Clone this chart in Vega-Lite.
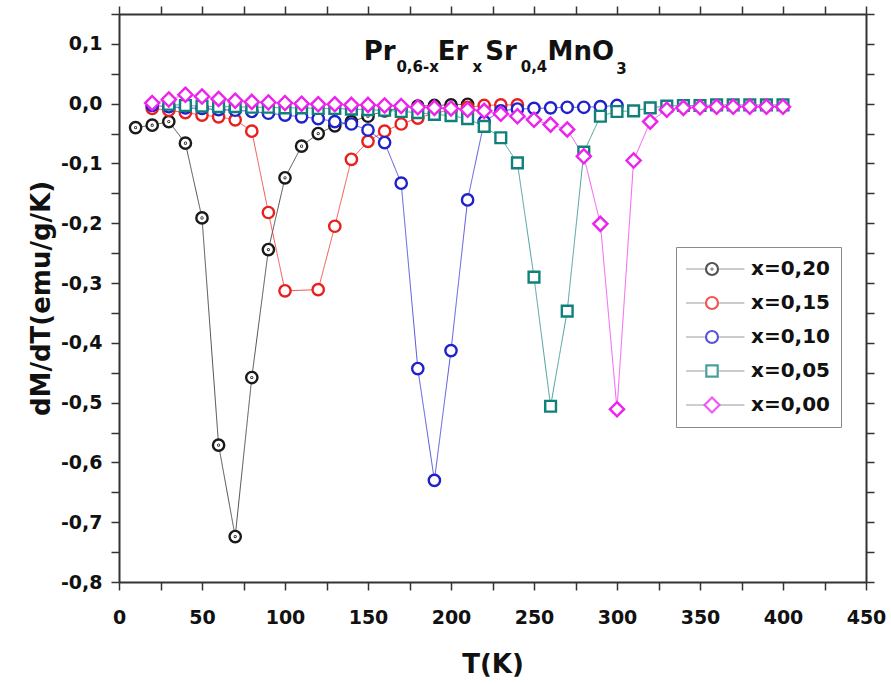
{
  "$schema": "https://vega.github.io/schema/vega-lite/v6.json",
  "width": 747,
  "height": 568,
  "autosize": "none",
  "padding": {"left": 119, "top": 14, "right": 25, "bottom": 102},
  "background": "white",
  "config": {"view": {"stroke": null}},
  "datasets": {
    "curves": [
      {"series": "x=0,20", "T": 10, "dMdT": -0.040},
      {"series": "x=0,20", "T": 20, "dMdT": -0.036},
      {"series": "x=0,20", "T": 30, "dMdT": -0.030},
      {"series": "x=0,20", "T": 40, "dMdT": -0.066},
      {"series": "x=0,20", "T": 50, "dMdT": -0.191},
      {"series": "x=0,20", "T": 60, "dMdT": -0.571},
      {"series": "x=0,20", "T": 70, "dMdT": -0.724},
      {"series": "x=0,20", "T": 80, "dMdT": -0.458},
      {"series": "x=0,20", "T": 90, "dMdT": -0.244},
      {"series": "x=0,20", "T": 100, "dMdT": -0.124},
      {"series": "x=0,20", "T": 110, "dMdT": -0.071},
      {"series": "x=0,20", "T": 120, "dMdT": -0.050},
      {"series": "x=0,20", "T": 130, "dMdT": -0.037},
      {"series": "x=0,20", "T": 140, "dMdT": -0.030},
      {"series": "x=0,20", "T": 150, "dMdT": -0.021},
      {"series": "x=0,20", "T": 160, "dMdT": -0.012},
      {"series": "x=0,20", "T": 170, "dMdT": -0.007},
      {"series": "x=0,20", "T": 180, "dMdT": -0.004},
      {"series": "x=0,20", "T": 190, "dMdT": -0.003},
      {"series": "x=0,20", "T": 200, "dMdT": -0.002},
      {"series": "x=0,20", "T": 210, "dMdT": -0.001},
      {"series": "x=0,15", "T": 20, "dMdT": -0.008},
      {"series": "x=0,15", "T": 30, "dMdT": -0.011},
      {"series": "x=0,15", "T": 40, "dMdT": -0.015},
      {"series": "x=0,15", "T": 50, "dMdT": -0.019},
      {"series": "x=0,15", "T": 60, "dMdT": -0.022},
      {"series": "x=0,15", "T": 70, "dMdT": -0.027},
      {"series": "x=0,15", "T": 80, "dMdT": -0.046},
      {"series": "x=0,15", "T": 90, "dMdT": -0.182},
      {"series": "x=0,15", "T": 100, "dMdT": -0.313},
      {"series": "x=0,15", "T": 120, "dMdT": -0.311},
      {"series": "x=0,15", "T": 130, "dMdT": -0.205},
      {"series": "x=0,15", "T": 140, "dMdT": -0.093},
      {"series": "x=0,15", "T": 150, "dMdT": -0.063},
      {"series": "x=0,15", "T": 160, "dMdT": -0.046},
      {"series": "x=0,15", "T": 170, "dMdT": -0.034},
      {"series": "x=0,15", "T": 180, "dMdT": -0.024},
      {"series": "x=0,15", "T": 190, "dMdT": -0.016},
      {"series": "x=0,15", "T": 200, "dMdT": -0.010},
      {"series": "x=0,15", "T": 210, "dMdT": -0.006},
      {"series": "x=0,15", "T": 220, "dMdT": -0.003},
      {"series": "x=0,15", "T": 230, "dMdT": -0.002},
      {"series": "x=0,15", "T": 240, "dMdT": -0.002},
      {"series": "x=0,10", "T": 20, "dMdT": -0.003},
      {"series": "x=0,10", "T": 30, "dMdT": -0.005},
      {"series": "x=0,10", "T": 40, "dMdT": -0.007},
      {"series": "x=0,10", "T": 50, "dMdT": -0.008},
      {"series": "x=0,10", "T": 60, "dMdT": -0.010},
      {"series": "x=0,10", "T": 70, "dMdT": -0.011},
      {"series": "x=0,10", "T": 80, "dMdT": -0.013},
      {"series": "x=0,10", "T": 90, "dMdT": -0.016},
      {"series": "x=0,10", "T": 100, "dMdT": -0.019},
      {"series": "x=0,10", "T": 110, "dMdT": -0.022},
      {"series": "x=0,10", "T": 120, "dMdT": -0.025},
      {"series": "x=0,10", "T": 130, "dMdT": -0.030},
      {"series": "x=0,10", "T": 140, "dMdT": -0.034},
      {"series": "x=0,10", "T": 150, "dMdT": -0.044},
      {"series": "x=0,10", "T": 160, "dMdT": -0.065},
      {"series": "x=0,10", "T": 170, "dMdT": -0.133},
      {"series": "x=0,10", "T": 180, "dMdT": -0.443},
      {"series": "x=0,10", "T": 190, "dMdT": -0.630},
      {"series": "x=0,10", "T": 200, "dMdT": -0.413},
      {"series": "x=0,10", "T": 210, "dMdT": -0.161},
      {"series": "x=0,10", "T": 220, "dMdT": -0.030},
      {"series": "x=0,10", "T": 230, "dMdT": -0.012},
      {"series": "x=0,10", "T": 240, "dMdT": -0.009},
      {"series": "x=0,10", "T": 250, "dMdT": -0.008},
      {"series": "x=0,10", "T": 260, "dMdT": -0.007},
      {"series": "x=0,10", "T": 270, "dMdT": -0.006},
      {"series": "x=0,10", "T": 280, "dMdT": -0.006},
      {"series": "x=0,10", "T": 290, "dMdT": -0.005},
      {"series": "x=0,10", "T": 300, "dMdT": -0.003},
      {"series": "x=0,05", "T": 30, "dMdT": -0.001},
      {"series": "x=0,05", "T": 40, "dMdT": -0.003},
      {"series": "x=0,05", "T": 50, "dMdT": -0.004},
      {"series": "x=0,05", "T": 60, "dMdT": -0.005},
      {"series": "x=0,05", "T": 70, "dMdT": -0.005},
      {"series": "x=0,05", "T": 80, "dMdT": -0.006},
      {"series": "x=0,05", "T": 90, "dMdT": -0.006},
      {"series": "x=0,05", "T": 100, "dMdT": -0.007},
      {"series": "x=0,05", "T": 110, "dMdT": -0.007},
      {"series": "x=0,05", "T": 120, "dMdT": -0.008},
      {"series": "x=0,05", "T": 130, "dMdT": -0.008},
      {"series": "x=0,05", "T": 140, "dMdT": -0.009},
      {"series": "x=0,05", "T": 150, "dMdT": -0.010},
      {"series": "x=0,05", "T": 160, "dMdT": -0.011},
      {"series": "x=0,05", "T": 170, "dMdT": -0.013},
      {"series": "x=0,05", "T": 180, "dMdT": -0.015},
      {"series": "x=0,05", "T": 190, "dMdT": -0.018},
      {"series": "x=0,05", "T": 200, "dMdT": -0.020},
      {"series": "x=0,05", "T": 210, "dMdT": -0.025},
      {"series": "x=0,05", "T": 220, "dMdT": -0.038},
      {"series": "x=0,05", "T": 230, "dMdT": -0.057},
      {"series": "x=0,05", "T": 240, "dMdT": -0.099},
      {"series": "x=0,05", "T": 250, "dMdT": -0.290},
      {"series": "x=0,05", "T": 260, "dMdT": -0.506},
      {"series": "x=0,05", "T": 270, "dMdT": -0.347},
      {"series": "x=0,05", "T": 280, "dMdT": -0.081},
      {"series": "x=0,05", "T": 290, "dMdT": -0.021},
      {"series": "x=0,05", "T": 300, "dMdT": -0.013},
      {"series": "x=0,05", "T": 310, "dMdT": -0.012},
      {"series": "x=0,05", "T": 320, "dMdT": -0.007},
      {"series": "x=0,05", "T": 330, "dMdT": -0.004},
      {"series": "x=0,05", "T": 340, "dMdT": -0.003},
      {"series": "x=0,05", "T": 350, "dMdT": -0.003},
      {"series": "x=0,05", "T": 360, "dMdT": -0.002},
      {"series": "x=0,05", "T": 370, "dMdT": -0.002},
      {"series": "x=0,05", "T": 380, "dMdT": -0.002},
      {"series": "x=0,05", "T": 390, "dMdT": -0.002},
      {"series": "x=0,05", "T": 400, "dMdT": -0.002},
      {"series": "x=0,00", "T": 20, "dMdT": 0.001},
      {"series": "x=0,00", "T": 30, "dMdT": 0.007},
      {"series": "x=0,00", "T": 40, "dMdT": 0.015},
      {"series": "x=0,00", "T": 50, "dMdT": 0.012},
      {"series": "x=0,00", "T": 60, "dMdT": 0.008},
      {"series": "x=0,00", "T": 70, "dMdT": 0.005},
      {"series": "x=0,00", "T": 80, "dMdT": 0.003},
      {"series": "x=0,00", "T": 90, "dMdT": 0.002},
      {"series": "x=0,00", "T": 100, "dMdT": 0.001},
      {"series": "x=0,00", "T": 110, "dMdT": 0.000},
      {"series": "x=0,00", "T": 120, "dMdT": -0.001},
      {"series": "x=0,00", "T": 130, "dMdT": -0.001},
      {"series": "x=0,00", "T": 140, "dMdT": -0.002},
      {"series": "x=0,00", "T": 150, "dMdT": -0.002},
      {"series": "x=0,00", "T": 160, "dMdT": -0.003},
      {"series": "x=0,00", "T": 170, "dMdT": -0.004},
      {"series": "x=0,00", "T": 180, "dMdT": -0.006},
      {"series": "x=0,00", "T": 190, "dMdT": -0.007},
      {"series": "x=0,00", "T": 200, "dMdT": -0.008},
      {"series": "x=0,00", "T": 210, "dMdT": -0.010},
      {"series": "x=0,00", "T": 220, "dMdT": -0.012},
      {"series": "x=0,00", "T": 230, "dMdT": -0.017},
      {"series": "x=0,00", "T": 240, "dMdT": -0.021},
      {"series": "x=0,00", "T": 250, "dMdT": -0.027},
      {"series": "x=0,00", "T": 260, "dMdT": -0.035},
      {"series": "x=0,00", "T": 270, "dMdT": -0.043},
      {"series": "x=0,00", "T": 280, "dMdT": -0.088},
      {"series": "x=0,00", "T": 290, "dMdT": -0.201},
      {"series": "x=0,00", "T": 300, "dMdT": -0.511},
      {"series": "x=0,00", "T": 310, "dMdT": -0.095},
      {"series": "x=0,00", "T": 320, "dMdT": -0.030},
      {"series": "x=0,00", "T": 330, "dMdT": -0.010},
      {"series": "x=0,00", "T": 340, "dMdT": -0.007},
      {"series": "x=0,00", "T": 350, "dMdT": -0.006},
      {"series": "x=0,00", "T": 360, "dMdT": -0.005},
      {"series": "x=0,00", "T": 370, "dMdT": -0.005},
      {"series": "x=0,00", "T": 380, "dMdT": -0.005},
      {"series": "x=0,00", "T": 390, "dMdT": -0.005},
      {"series": "x=0,00", "T": 400, "dMdT": -0.005}
    ]
  },
  "resolve": {"axis": {"x": "independent", "y": "independent"}},
  "layer": [
    {
      "data": {"name": "curves"},
      "mark": {"type": "line", "strokeWidth": 1, "opacity": 0.75},
      "encoding": {
        "x": {
          "field": "T", "type": "quantitative",
          "scale": {"domain": [0, 450], "nice": false, "zero": false},
          "axis": {
            "orient": "bottom",
            "values": [0,25,50,75,100,125,150,175,200,225,250,275,300,325,350,375,400,425,450],
            "format": "d",
            "labelExpr": "datum.value % 50 === 0 ? datum.label : ''",
            "title": "T(K)",
            "titleFont": "DejaVu Sans", "titleFontWeight": "bold", "titleFontSize": 26, "titleColor": "#111", "titlePadding": 24,
            "labelFont": "DejaVu Sans", "labelFontWeight": "bold", "labelFontSize": 19, "labelColor": "#111", "labelPadding": 18,
            "labelFlush": false, "labelOverlap": false,
            "tickSize": 8,
            "tickColor": "#333", "tickWidth": 1.5,
            "domainColor": "#333", "domainWidth": 2, "grid": false,
            "encode": {"ticks": {"update": {"y2": {"signal": "datum.value % 50 === 0 ? 8 : 4"}}}}
          }
        },
        "y": {
          "field": "dMdT", "type": "quantitative",
          "scale": {"domain": [-0.8, 0.15], "nice": false, "zero": false},
          "axis": {
            "orient": "left",
            "values": [-0.8,-0.75,-0.7,-0.65,-0.6,-0.55,-0.5,-0.45,-0.4,-0.35,-0.3,-0.25,-0.2,-0.15,-0.1,-0.05,0,0.05,0.1,0.15],
            "labelExpr": "round(datum.value*20) % 2 === 0 ? replace(replace(format(datum.value, '.1f'), '.', ','), '\u2212', '-') : ''",
            "title": "dM/dT(emu/g/K)",
            "titleFont": "DejaVu Sans", "titleFontWeight": "bold", "titleFontSize": 26, "titleColor": "#111", "titlePadding": 6,
            "labelFont": "DejaVu Sans", "labelFontWeight": "bold", "labelFontSize": 19, "labelColor": "#111", "labelPadding": 9,
            "labelFlush": false, "labelOverlap": false,
            "tickSize": 8,
            "tickColor": "#333", "tickWidth": 1.5,
            "domainColor": "#333", "domainWidth": 2, "grid": false,
            "encode": {"ticks": {"update": {"x2": {"signal": "round(datum.value*20) % 2 === 0 ? -8 : -4"}}}}
          }
        },
        "color": {
          "field": "series", "type": "nominal",
          "scale": {"domain": ["x=0,20", "x=0,15", "x=0,10", "x=0,05", "x=0,00"], "range": ["#1a1a1a", "#e8201e", "#2020cc", "#10807a", "#ee22ee"]}
        },
        "strokeDash": {
          "field": "series", "type": "nominal",
          "scale": {"domain": ["x=0,20", "x=0,15", "x=0,10", "x=0,05", "x=0,00", "none"], "range": [[1, 0], [1, 0], [1, 0], [1, 0], [1, 0], [1, 0]]},
          "legend": {
            "values": ["x=0,20", "x=0,15", "x=0,10", "x=0,05", "x=0,00"],
            "title": null, "orient": "none", "legendX": 557, "legendY": 233, "direction": "vertical",
            "padding": 10, "strokeColor": "transparent", "fillColor": "transparent",
            "labelFont": "DejaVu Sans", "labelFontWeight": "bold", "labelFontSize": 20, "labelOpacity": 0,
            "labelExpr": "''",
            "symbolType": "M-5.4,0L-1.2,0M1.2,0L5.4,0",
            "symbolSize": 144, "symbolOffset": 16, "labelOffset": 29, "rowPadding": 10, "clipHeight": 24,
            "symbolStrokeColor": "#8f8f8f", "symbolStrokeWidth": 1, "symbolOpacity": 1
          }
        }
      }
    },
    {
      "data": {"name": "curves"},
      "mark": {"type": "point", "filled": false, "fill": "white", "fillOpacity": 1, "strokeWidth": 2.4, "size": 128, "opacity": 1},
      "encoding": {
        "x": {
          "field": "T", "type": "quantitative",
          "scale": {"domain": [0, 450], "nice": false, "zero": false},
          "axis": {
            "orient": "top", "title": null, "labels": false,
            "values": [0,25,50,75,100,125,150,175,200,225,250,275,300,325,350,375,400,425,450],
            "tickSize": 8,
            "tickColor": "#333", "tickWidth": 1.5,
            "domainColor": "#333", "domainWidth": 2, "grid": false,
            "encode": {"ticks": {"update": {"y2": {"signal": "datum.value % 50 === 0 ? 8 : 4"}}}}
          }
        },
        "y": {
          "field": "dMdT", "type": "quantitative",
          "scale": {"domain": [-0.8, 0.15], "nice": false, "zero": false},
          "axis": {
            "orient": "right", "title": null, "labels": false,
            "values": [-0.8,-0.75,-0.7,-0.65,-0.6,-0.55,-0.5,-0.45,-0.4,-0.35,-0.3,-0.25,-0.2,-0.15,-0.1,-0.05,0,0.05,0.1,0.15],
            "tickSize": 8,
            "tickColor": "#333", "tickWidth": 1.5,
            "domainColor": "#333", "domainWidth": 2, "grid": false,
            "encode": {"ticks": {"update": {"x2": {"signal": "round(datum.value*20) % 2 === 0 ? -8 : -4"}}}}
          }
        },
        "color": {
          "field": "series", "type": "nominal",
          "scale": {"domain": ["x=0,20", "x=0,15", "x=0,10", "x=0,05", "x=0,00"], "range": ["#1a1a1a", "#e8201e", "#2020cc", "#10807a", "#ee22ee"]},
          "legend": {
            "title": null, "orient": "none", "legendX": 557, "legendY": 233, "direction": "vertical",
            "padding": 10, "strokeColor": "#8a8a8a", "fillColor": "white",
            "labelFont": "DejaVu Sans", "labelFontWeight": "bold", "labelFontSize": 20, "labelColor": "#111",
            "symbolSize": 144, "symbolOffset": 16, "labelOffset": 29, "rowPadding": 10, "clipHeight": 24,
            "symbolStrokeWidth": 2.2, "symbolOpacity": 1
          }
        },
        "shape": {
          "field": "series", "type": "nominal",
          "scale": {"domain": ["x=0,20", "x=0,15", "x=0,10", "x=0,05", "x=0,00"], "range": [
            "M-1,0A1,1,0,1,1,1,0A1,1,0,1,1,-1,0ZM-0.07,0A0.07,0.07,0,1,1,0.07,0A0.07,0.07,0,1,1,-0.07,0Z",
            "M-1,0A1,1,0,1,1,1,0A1,1,0,1,1,-1,0Z",
            "M-1,0A1,1,0,1,1,1,0A1,1,0,1,1,-1,0Z",
            "M-0.95,-0.95L0.95,-0.95L0.95,0.95L-0.95,0.95Z",
            "M0,-1.25L1.25,0L0,1.25L-1.25,0Z"
          ]}
        }
      }
    },
    {
      "data": {"values": [{}]},
      "mark": {"type": "text", "text": "Pr", "font": "DejaVu Sans", "fontWeight": "bold", "fontSize": 26, "align": "left", "baseline": "alphabetic", "fill": "#111"},
      "encoding": {"x": {"datum": 147.4, "type": "quantitative", "axis": null}, "y": {"datum": 0.0724, "type": "quantitative", "axis": null}}
    },
    {
      "data": {"values": [{}]},
      "mark": {"type": "text", "text": "0,6-x", "font": "DejaVu Sans", "fontWeight": "bold", "fontSize": 15, "align": "left", "baseline": "alphabetic", "fill": "#111"},
      "encoding": {"x": {"datum": 167.1, "type": "quantitative", "axis": null}, "y": {"datum": 0.053, "type": "quantitative", "axis": null}}
    },
    {
      "data": {"values": [{}]},
      "mark": {"type": "text", "text": "Er", "font": "DejaVu Sans", "fontWeight": "bold", "fontSize": 26, "align": "left", "baseline": "alphabetic", "fill": "#111"},
      "encoding": {"x": {"datum": 192.0, "type": "quantitative", "axis": null}, "y": {"datum": 0.0724, "type": "quantitative", "axis": null}}
    },
    {
      "data": {"values": [{}]},
      "mark": {"type": "text", "text": "x", "font": "DejaVu Sans", "fontWeight": "bold", "fontSize": 15, "align": "left", "baseline": "alphabetic", "fill": "#111"},
      "encoding": {"x": {"datum": 213.0, "type": "quantitative", "axis": null}, "y": {"datum": 0.053, "type": "quantitative", "axis": null}}
    },
    {
      "data": {"values": [{}]},
      "mark": {"type": "text", "text": "Sr", "font": "DejaVu Sans", "fontWeight": "bold", "fontSize": 26, "align": "left", "baseline": "alphabetic", "fill": "#111"},
      "encoding": {"x": {"datum": 220.7, "type": "quantitative", "axis": null}, "y": {"datum": 0.0724, "type": "quantitative", "axis": null}}
    },
    {
      "data": {"values": [{}]},
      "mark": {"type": "text", "text": "0,4", "font": "DejaVu Sans", "fontWeight": "bold", "fontSize": 15, "align": "left", "baseline": "alphabetic", "fill": "#111"},
      "encoding": {"x": {"datum": 242.0, "type": "quantitative", "axis": null}, "y": {"datum": 0.053, "type": "quantitative", "axis": null}}
    },
    {
      "data": {"values": [{}]},
      "mark": {"type": "text", "text": "MnO", "font": "DejaVu Sans", "fontWeight": "bold", "fontSize": 26, "align": "left", "baseline": "alphabetic", "fill": "#111"},
      "encoding": {"x": {"datum": 258.2, "type": "quantitative", "axis": null}, "y": {"datum": 0.0724, "type": "quantitative", "axis": null}}
    },
    {
      "data": {"values": [{}]},
      "mark": {"type": "text", "text": "3", "font": "DejaVu Sans", "fontWeight": "bold", "fontSize": 15, "align": "left", "baseline": "alphabetic", "fill": "#111"},
      "encoding": {"x": {"datum": 299.5, "type": "quantitative", "axis": null}, "y": {"datum": 0.049, "type": "quantitative", "axis": null}}
    }
  ]
}
